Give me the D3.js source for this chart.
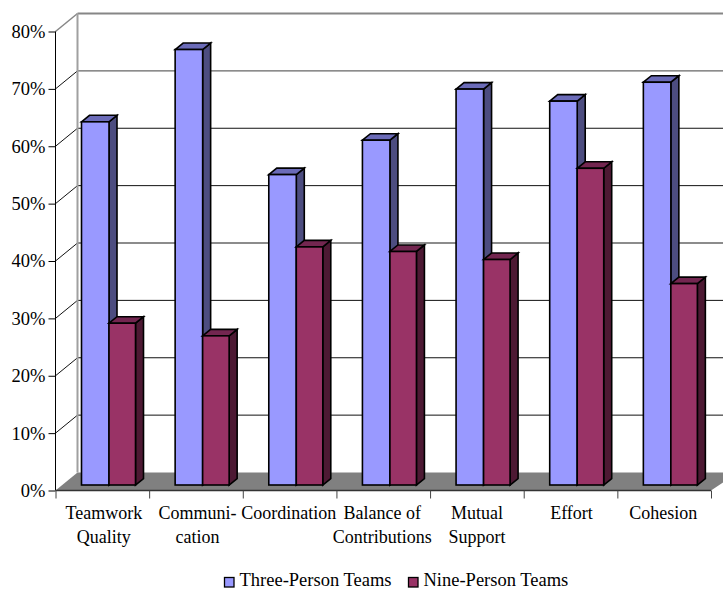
<!DOCTYPE html>
<html><head><meta charset="utf-8">
<script src="https://cdn.jsdelivr.net/npm/d3@7"></script>
<style>html,body{margin:0;padding:0;background:#fff}svg{display:block}text{font-family:"Liberation Serif",serif;fill:#000}</style>
</head><body><div id="c"></div>
<script>
const categories = [["Teamwork","Quality"],["Communi-","cation"],["Coordination"],["Balance of","Contributions"],["Mutual","Support"],["Effort"],["Cohesion"]];
const threePerson = [63.3,75.9,54.1,60.1,69.0,66.9,70.2];
const ninePerson = [28.2,26.0,41.5,40.7,39.3,55.2,35.1];
const seriesNames = ["Three-Person Teams","Nine-Person Teams"];
const yTicks = [0,10,20,30,40,50,60,70,80];

const W=723,H=590;
const svg=d3.select("#c").append("svg").attr("width",W).attr("height",H);
const y=d3.scaleLinear().domain([0,80]).range([490.5,31.5]);
const x=d3.scaleBand().domain(d3.range(categories.length)).range([55.5,711]).paddingInner(0).paddingOuter(0);
const back={dx:22,dy:-18};
const barPlane={dy:-5.5};
const bd={dx:8,dy:-6.5};
const wallCol="#868686";
const gridStroke=d=>d==80?wallCol:(d==70||d==40)?"#666":"#111";
const gridWidth=d=>d==80?2:(d==70||d==40)?1.3:1;

// floor
svg.append("path").attr("fill","#808080")
 .attr("d",d3.line()([[x.range()[0],y(0)],[x.range()[0]+back.dx,y(0)+back.dy],[W,y(0)+back.dy],[W,y(0)-8],[x.range()[1],y(0)]]));
// side and back wall lines
const gridG=svg.append("g").attr("fill","none");
gridG.selectAll("path.back").data(yTicks.filter(d=>d>0)).join("path").attr("class","back")
 .attr("stroke",gridStroke).attr("stroke-width",gridWidth)
 .attr("d",d=>d3.line()([[x.range()[0]+back.dx,y(d)+back.dy],[W,y(d)+back.dy]]));
gridG.selectAll("path.side").data(yTicks.filter(d=>d>0)).join("path").attr("class","side")
 .attr("stroke",d=>d==80?wallCol:"#111").attr("stroke-width",d=>d==80?1.5:1)
 .attr("d",d=>d3.line()([[x.range()[0],y(d)],[x.range()[0]+back.dx,y(d)+back.dy]]));
svg.append("line").attr("x1",55.5+back.dx).attr("x2",55.5+back.dx).attr("y1",y(80)+back.dy).attr("y2",y(0)+back.dy)
 .attr("stroke","#a0a0a0").attr("stroke-width",2);

// bars
const series=[
 {vals:threePerson,off:26,bw:27.5,front:"#9999ff",top:"#6b6bb8",side:"#4d4d80"},
 {vals:ninePerson,off:53.5,bw:26.5,front:"#993366",top:"#732650",side:"#4d1933"}];
const barG=svg.append("g");
categories.forEach((c,i)=>{
 series.forEach(s=>{
  const x0=x(i)+s.off,x1=x0+s.bw,yb=y(0)+barPlane.dy,yt=y(s.vals[i])+barPlane.dy;
  const g=barG.append("g").attr("stroke","#000").attr("stroke-width",1.6).attr("stroke-linejoin","miter");
  g.append("path").attr("fill",s.side).attr("d",d3.line()([[x1,yt],[x1+bd.dx,yt+bd.dy],[x1+bd.dx,yb+bd.dy],[x1,yb]])+"Z");
  g.append("path").attr("fill",s.top).attr("d",d3.line()([[x0,yt],[x0+bd.dx,yt+bd.dy],[x1+bd.dx,yt+bd.dy],[x1,yt]])+"Z");
  g.append("rect").attr("x",x0).attr("y",yt).attr("width",s.bw).attr("height",yb-yt).attr("fill",s.front);
 });
});

// y axis
const yAxis=d3.axisLeft(y).tickValues(yTicks).tickFormat(d=>d+"%").tickSize(7).tickPadding(3);
const ya=svg.append("g").attr("transform","translate(55.5,0)").call(yAxis);
ya.select(".domain").attr("stroke","#000").attr("d",`M0,${y(80)}V${y(0)}`);
ya.selectAll("text").style("font-size","18.5px").style("font-family","Liberation Serif");
// x axis
const xTicks=d3.range(categories.length+1);
const xs=d3.scaleLinear().domain([0,categories.length]).range(x.range());
const xa=svg.append("g").attr("transform",`translate(0,${y(0)})`).call(d3.axisBottom(xs).tickValues(xTicks).tickFormat("").tickSize(8));
xa.select(".domain").attr("stroke","#333").attr("stroke-width",1.5).attr("d",`M${x.range()[0]},0H${x.range()[1]}`);
xa.selectAll("line").attr("stroke","#444");
// category labels
const labelShift=[1.5,1.5,-0.8,-1,0,1,-1];
const lab=svg.append("g").attr("text-anchor","middle").style("font-size","18px");
categories.forEach((c,i)=>{
 c.forEach((t,j)=>lab.append("text").attr("x",x(i)+x.bandwidth()/2+labelShift[i]).attr("y",519+j*23.5).text(t));
});
// legend
const lg=svg.append("g");
[[224,seriesNames[0],series[0].front],[408,seriesNames[1],series[1].front]].forEach(([lx,t,c])=>{
 lg.append("rect").attr("x",lx+0.5).attr("y",577.5).attr("width",9.5).attr("height",9.5).attr("fill",c).attr("stroke","#000").attr("stroke-width",1.3);
 lg.append("text").attr("x",lx+15.5).attr("y",586).style("font-size","18.5px").text(t);
});
</script></body></html>
